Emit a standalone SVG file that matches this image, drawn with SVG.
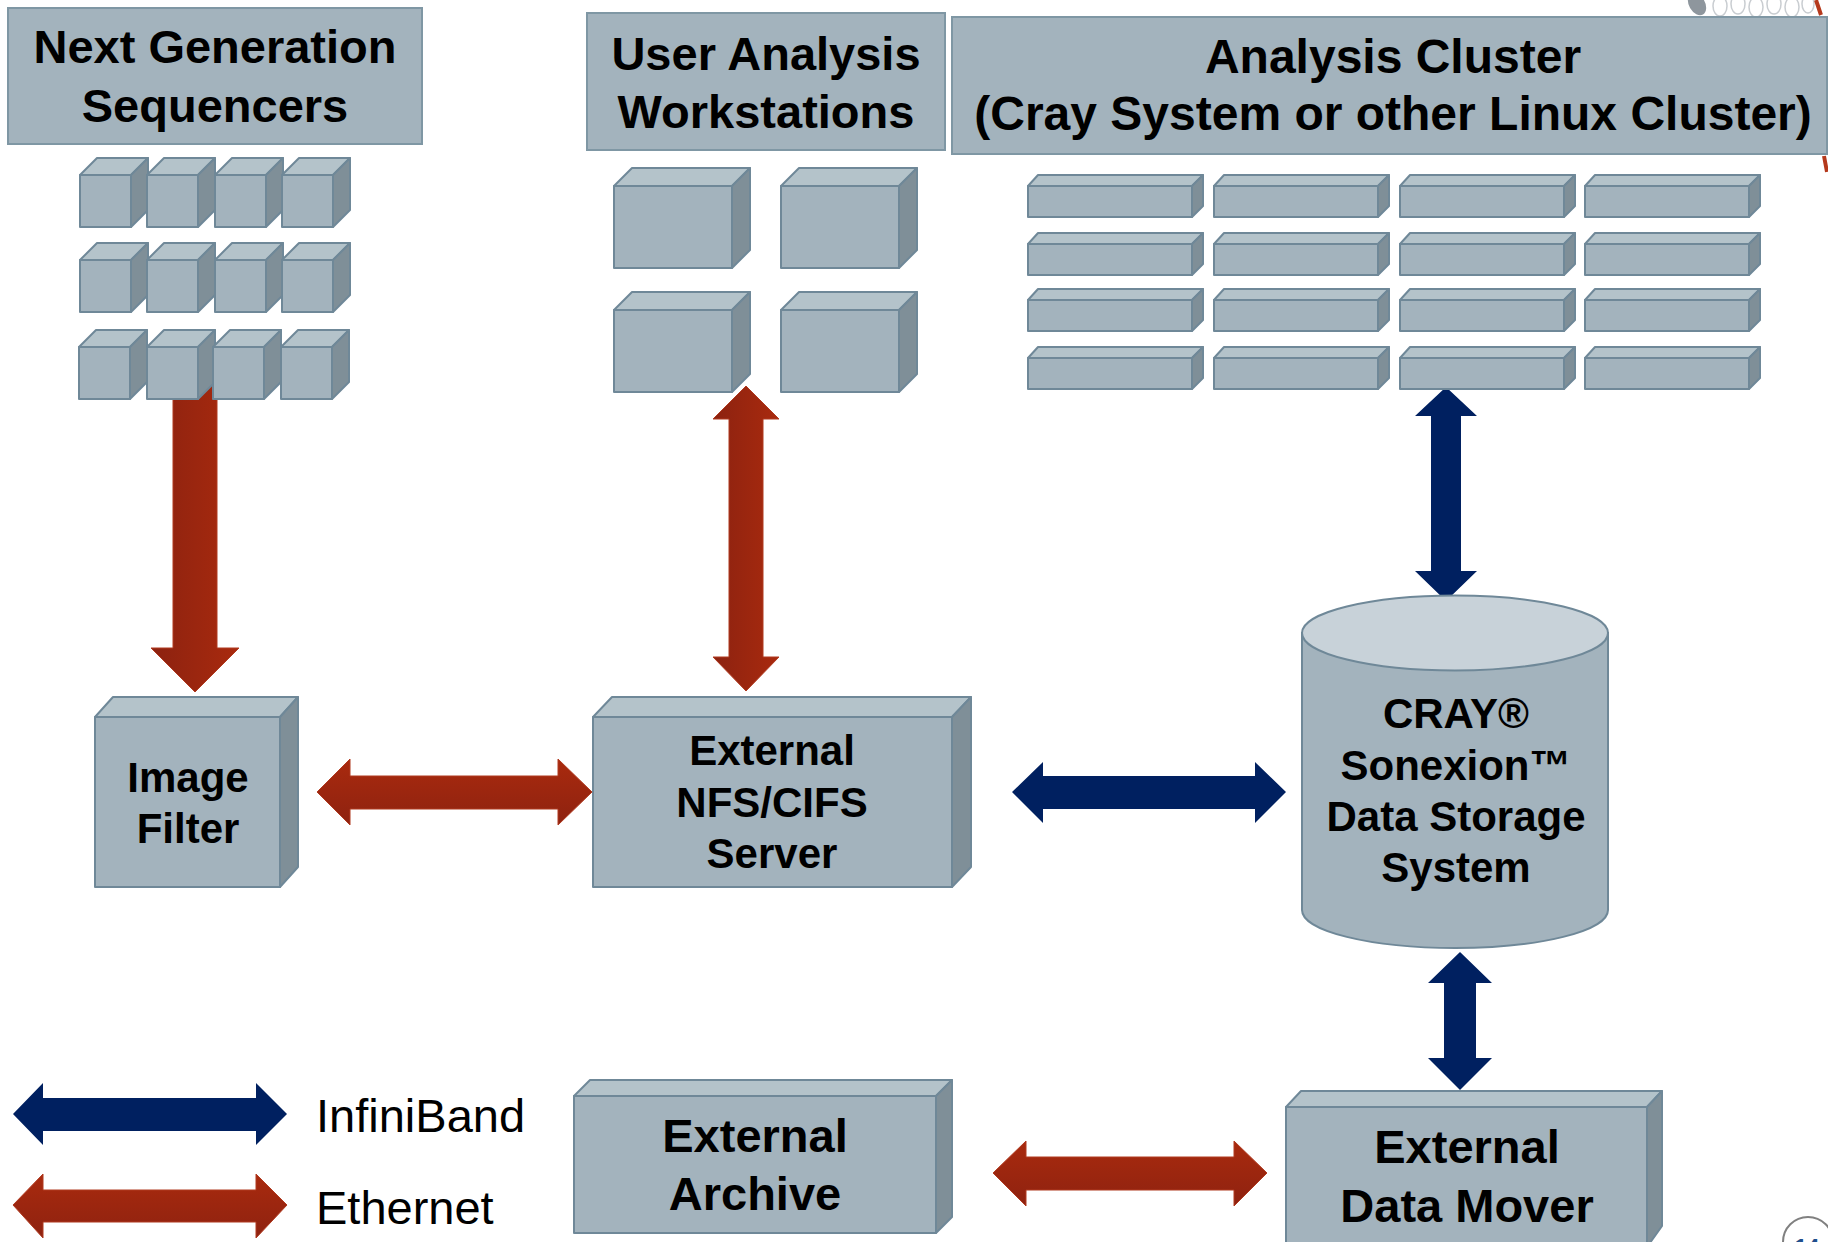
<svg xmlns="http://www.w3.org/2000/svg" xmlns:xlink="http://www.w3.org/1999/xlink" width="1828" height="1242" viewBox="0 0 1828 1242">
<style>
.hdr{fill:#A3B3BD;stroke:#7F97A4;stroke-width:2}
.front{fill:#A3B3BD;stroke:#6F8898;stroke-width:2;stroke-linejoin:round}
.top{fill:#B4C3CA;stroke:#6F8898;stroke-width:2;stroke-linejoin:round}
.side{fill:#7F8F98;stroke:#6F8898;stroke-width:2;stroke-linejoin:round}
.t{font-family:"Liberation Sans",Arial,sans-serif;font-weight:bold;fill:#000;text-anchor:middle}
.leg{font-family:"Liberation Sans",Arial,sans-serif;fill:#000;font-size:47px}
.blue{fill:#002060}
.redh{fill:url(#gRedH);stroke:#B03A20;stroke-width:1}
.redv{fill:url(#gRedV);stroke:#B03A20;stroke-width:1}
</style>
<defs>
<linearGradient id="gRedH" x1="0" y1="0" x2="0" y2="1">
<stop offset="0" stop-color="#A92A0E"/><stop offset="1" stop-color="#8E2210"/>
</linearGradient>
<linearGradient id="gRedV" x1="0" y1="0" x2="1" y2="0">
<stop offset="0" stop-color="#8C2210"/><stop offset="1" stop-color="#A92A0E"/>
</linearGradient>
<g id="seqCube">
<rect class="front" x="0" y="0" width="51" height="52"/>
<polygon class="top" points="0,0 17,-17 68,-17 51,0"/>
<polygon class="side" points="51,0 68,-17 68,35 51,52"/>
</g>
<g id="wsCube">
<rect class="front" x="0" y="0" width="118" height="82"/>
<polygon class="top" points="0,0 18,-18 136,-18 118,0"/>
<polygon class="side" points="118,0 136,-18 136,64 118,82"/>
</g>
<g id="blade">
<rect class="front" x="0" y="0" width="164" height="31"/>
<polygon class="top" points="0,0 10,-11 175,-11 164,0"/>
<polygon class="side" points="164,0 175,-11 175,20 164,31"/>
</g>
</defs>

<rect x="0" y="0" width="1828" height="1242" fill="#FFFFFF"/>

<g id="decor">
<ellipse cx="1697" cy="4" rx="8" ry="12" fill="#8E969D" transform="rotate(-30 1697 4)"/>
<ellipse cx="1720" cy="6" rx="7" ry="10" fill="none" stroke="#C9CDD1" stroke-width="1.5"/>
<ellipse cx="1738" cy="4" rx="7" ry="10" fill="none" stroke="#C9CDD1" stroke-width="1.5"/>
<ellipse cx="1756" cy="7" rx="7" ry="10" fill="none" stroke="#C9CDD1" stroke-width="1.5"/>
<ellipse cx="1774" cy="4" rx="7" ry="10" fill="none" stroke="#C9CDD1" stroke-width="1.5"/>
<ellipse cx="1792" cy="7" rx="7" ry="10" fill="none" stroke="#C9CDD1" stroke-width="1.5"/>
<ellipse cx="1808" cy="4" rx="6" ry="9" fill="none" stroke="#C9CDD1" stroke-width="1.5"/>
<line x1="1816" y1="0" x2="1821" y2="15" stroke="#B5391C" stroke-width="4"/>
<line x1="1824" y1="156" x2="1827" y2="172" stroke="#B5391C" stroke-width="4"/>
<circle cx="1808" cy="1242" r="25" fill="#FFFFFF" stroke="#808080" stroke-width="2"/>
<text x="1807" y="1254" font-family="Liberation Sans, Arial, sans-serif" font-weight="bold" font-size="22" fill="#1F4E8C" text-anchor="middle">14</text>
</g>

<g id="connectors">
<polygon id="e-ngs-filter" class="redv" points="173,380 217,380 217,648 239,648 195,692 151,648 173,648"/>
<polygon id="e-ws-nfs" class="redv" points="746,386 779,419 763,419 763,657 779,657 746,691 713,657 729,657 729,419 713,419"/>
<polygon id="e-filter-nfs" class="redh" points="317,792 350,759 350,776 558,776 558,759 592,792 558,825 558,809 350,809 350,825"/>
<polygon id="e-nfs-storage" class="blue" points="1012,792 1043,762 1043,776 1255,776 1255,762 1286,792 1255,823 1255,809 1043,809 1043,823"/>
<polygon id="e-cluster-storage" class="blue" points="1446,387 1477,416 1461,416 1461,571 1477,571 1446,601 1415,571 1431,571 1431,416 1415,416"/>
<polygon id="e-storage-mover" class="blue" points="1460,952 1492,983 1476,983 1476,1058 1492,1058 1460,1090 1428,1058 1444,1058 1444,983 1428,983"/>
<polygon id="e-archive-mover" class="redh" points="993,1173 1026,1141 1026,1157 1234,1157 1234,1141 1267,1173 1234,1206 1234,1190 1026,1190 1026,1206"/>
</g>

<g id="ngs">
<rect class="hdr" x="8" y="8" width="414" height="136"/>
<text class="t" x="215" y="63" font-size="47">Next Generation</text>
<text class="t" x="215" y="122" font-size="47">Sequencers</text>
<use xlink:href="#seqCube" x="80" y="175"/>
<use xlink:href="#seqCube" x="147" y="175"/>
<use xlink:href="#seqCube" x="215" y="175"/>
<use xlink:href="#seqCube" x="282" y="175"/>
<use xlink:href="#seqCube" x="80" y="260"/>
<use xlink:href="#seqCube" x="147" y="260"/>
<use xlink:href="#seqCube" x="215" y="260"/>
<use xlink:href="#seqCube" x="282" y="260"/>
<use xlink:href="#seqCube" x="79" y="347"/>
<use xlink:href="#seqCube" x="147" y="347"/>
<use xlink:href="#seqCube" x="213" y="347"/>
<use xlink:href="#seqCube" x="281" y="347"/>
</g>

<g id="workstations">
<rect class="hdr" x="587" y="13" width="358" height="137"/>
<text class="t" x="766" y="70" font-size="47">User Analysis</text>
<text class="t" x="766" y="128" font-size="47">Workstations</text>
<use xlink:href="#wsCube" x="614" y="186"/>
<use xlink:href="#wsCube" x="781" y="186"/>
<use xlink:href="#wsCube" x="614" y="310"/>
<use xlink:href="#wsCube" x="781" y="310"/>
</g>

<g id="cluster">
<rect class="hdr" x="952" y="17" width="875" height="137"/>
<text class="t" x="1393" y="73" font-size="48">Analysis Cluster</text>
<text class="t" x="1393" y="130" font-size="48">(Cray System or other Linux Cluster)</text>
<use xlink:href="#blade" x="1028" y="186"/>
<use xlink:href="#blade" x="1214" y="186"/>
<use xlink:href="#blade" x="1400" y="186"/>
<use xlink:href="#blade" x="1585" y="186"/>
<use xlink:href="#blade" x="1028" y="244"/>
<use xlink:href="#blade" x="1214" y="244"/>
<use xlink:href="#blade" x="1400" y="244"/>
<use xlink:href="#blade" x="1585" y="244"/>
<use xlink:href="#blade" x="1028" y="300"/>
<use xlink:href="#blade" x="1214" y="300"/>
<use xlink:href="#blade" x="1400" y="300"/>
<use xlink:href="#blade" x="1585" y="300"/>
<use xlink:href="#blade" x="1028" y="358"/>
<use xlink:href="#blade" x="1214" y="358"/>
<use xlink:href="#blade" x="1400" y="358"/>
<use xlink:href="#blade" x="1585" y="358"/>
</g>

<g id="image-filter">
<rect class="front" x="95" y="717" width="185" height="170"/>
<polygon class="top" points="95,717 113,697 298,697 280,717"/>
<polygon class="side" points="280,717 298,697 298,867 280,887"/>
<text class="t" x="188" y="792" font-size="42">Image</text>
<text class="t" x="188" y="843" font-size="42">Filter</text>
</g>

<g id="nfs-server">
<rect class="front" x="593" y="717" width="359" height="170"/>
<polygon class="top" points="593,717 612,697 971,697 952,717"/>
<polygon class="side" points="952,717 971,697 971,867 952,887"/>
<text class="t" x="772" y="765" font-size="42">External</text>
<text class="t" x="772" y="817" font-size="42">NFS/CIFS</text>
<text class="t" x="772" y="868" font-size="42">Server</text>
</g>

<g id="storage">
<path d="M1302,633 L1302,910 A153,38 0 0 0 1608,910 L1608,633 Z" fill="#A3B3BD" stroke="#6F8898" stroke-width="2"/>
<ellipse cx="1455" cy="633" rx="153" ry="37.5" fill="#C8D2D9" stroke="#6F8898" stroke-width="2"/>
<text class="t" x="1456" y="728" font-size="42">CRAY®</text>
<text class="t" x="1456" y="780" font-size="42">Sonexion™</text>
<text class="t" x="1456" y="831" font-size="42">Data Storage</text>
<text class="t" x="1456" y="882" font-size="42">System</text>
</g>

<g id="archive">
<rect class="front" x="574" y="1096" width="362" height="137"/>
<polygon class="top" points="574,1096 590,1080 952,1080 936,1096"/>
<polygon class="side" points="936,1096 952,1080 952,1217 936,1233"/>
<text class="t" x="755" y="1152" font-size="47">External</text>
<text class="t" x="755" y="1210" font-size="47">Archive</text>
</g>

<g id="data-mover">
<rect class="front" x="1286" y="1107" width="361" height="140"/>
<polygon class="top" points="1286,1107 1301,1091 1662,1091 1647,1107"/>
<polygon class="side" points="1647,1107 1662,1091 1662,1226 1647,1247"/>
<text class="t" x="1467" y="1163" font-size="47">External</text>
<text class="t" x="1467" y="1222" font-size="47">Data Mover</text>
</g>

<g id="legend">
<polygon class="blue" points="13,1114 43,1083 43,1098 256,1098 256,1083 287,1114 256,1145 256,1131 43,1131 43,1145"/>
<polygon class="redh" points="13,1205 43,1174 43,1190 256,1190 256,1174 287,1205 256,1238 256,1222 43,1222 43,1238"/>
<text class="leg" x="316" y="1132">InfiniBand</text>
<text class="leg" x="316" y="1224">Ethernet</text>
</g>
</svg>
